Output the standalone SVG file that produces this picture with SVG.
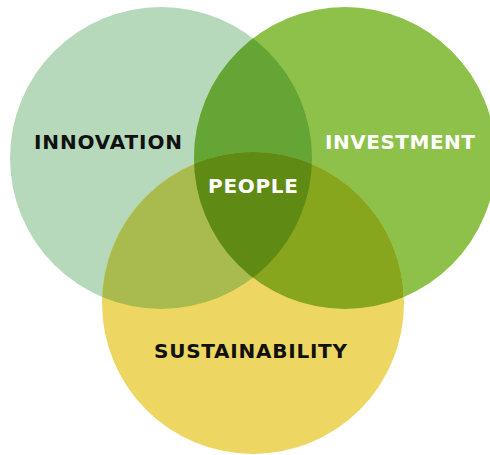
<svg xmlns="http://www.w3.org/2000/svg" width="490" height="455" viewBox="0 0 490 455">
  <style>
    .lbl { font-family: "DejaVu Sans", "Liberation Sans", sans-serif; font-weight: bold; font-size: 20px; }
    .dark { fill: #111111; }
    .light { fill: #ffffff; }
  </style>
  <defs>
    <clipPath id="clipInn"><circle cx="161" cy="158" r="151"/></clipPath>
    <clipPath id="clipInv"><circle cx="345" cy="158" r="151"/></clipPath>
  </defs>
  <rect width="490" height="455" fill="#ffffff"/>

  <g id="innovation">
    <circle cx="161" cy="158" r="151" fill="#b5d9ba"/>
  </g>
  <g id="investment">
    <circle cx="345" cy="158" r="151" fill="#8dc149"/>
  </g>
  <g id="sustainability">
    <circle cx="253" cy="303" r="151" fill="#edd662"/>
  </g>

  <!-- pairwise overlaps -->
  <g id="overlap-innovation-investment" clip-path="url(#clipInn)">
    <circle cx="345" cy="158" r="151" fill="#65a535"/>
  </g>
  <g id="overlap-innovation-sustainability" clip-path="url(#clipInn)">
    <circle cx="253" cy="303" r="151" fill="#a9bb4f"/>
  </g>
  <g id="overlap-investment-sustainability" clip-path="url(#clipInv)">
    <circle cx="253" cy="303" r="151" fill="#87a61e"/>
  </g>
  <!-- centre where all three meet -->
  <g id="people" clip-path="url(#clipInn)">
    <g clip-path="url(#clipInv)">
      <circle cx="253" cy="303" r="151" fill="#5f8a14"/>
    </g>
  </g>

  <g id="labels">
    <text class="lbl dark" x="34" y="149" textLength="148" lengthAdjust="spacing">INNOVATION</text>
    <text class="lbl light" x="325" y="149" textLength="150" lengthAdjust="spacing">INVESTMENT</text>
    <text class="lbl light" x="208" y="193" font-size="19" textLength="90" lengthAdjust="spacing">PEOPLE</text>
    <text class="lbl dark" x="154" y="358" textLength="193" lengthAdjust="spacing">SUSTAINABILITY</text>
  </g>
</svg>
